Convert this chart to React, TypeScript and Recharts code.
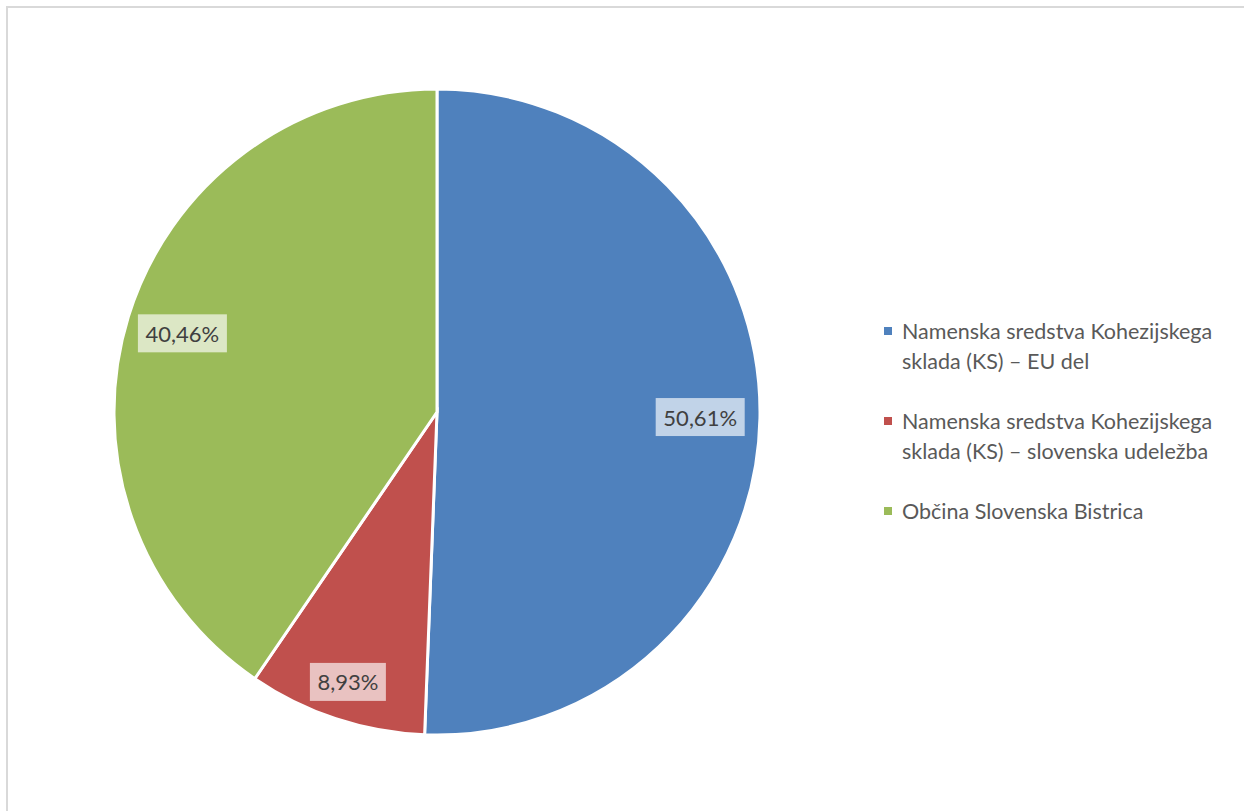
import React from 'react';
import { PieChart, Pie, Cell, Legend } from 'recharts';

const categories = [
  'Namenska sredstva Kohezijskega sklada (KS) – EU del',
  'Namenska sredstva Kohezijskega sklada (KS) – slovenska udeležba',
  'Občina Slovenska Bistrica',
];
const legendLines = [
  ['Namenska sredstva Kohezijskega', 'sklada (KS) – EU del'],
  ['Namenska sredstva Kohezijskega', 'sklada (KS) – slovenska udeležba'],
  ['Občina Slovenska Bistrica'],
];
const shares = [50.61, 8.93, 40.46];
const colors = ['#4f81bd', '#c0504d', '#9bbb59'];

const data = categories.map((name, i) => ({ name, value: shares[i] }));

const FONT = 'Lato, "Open Sans", sans-serif';
const RADIAN = Math.PI / 180;
const labelRadius = [0.815, 0.88, 0.825];

const fmt = (v: number) => v.toFixed(2).replace('.', ',') + '%';

const renderLabel = (props: any) => {
  const { cx, cy, midAngle, outerRadius, value, index } = props;
  const r = outerRadius * labelRadius[index];
  const x = cx + r * Math.cos(-midAngle * RADIAN);
  const y = cy + r * Math.sin(-midAngle * RADIAN);
  const text = fmt(value);
  const w = text.length * 13 + 11;
  const h = 38;
  return (
    <g>
      <rect x={x - w / 2} y={y - h / 2} width={w} height={h} fill="#ffffff" fillOpacity={0.65} />
      <text
        x={x}
        y={y}
        textAnchor="middle"
        dominantBaseline="central"
        fill="#404040"
        style={{ fontFamily: FONT, fontSize: 22 }}
      >
        {text}
      </text>
    </g>
  );
};

const CustomLegend = () => (
  <div style={{ fontFamily: FONT, fontSize: 21.5, color: '#595959' }}>
    {legendLines.map((lines, i) => (
      <div key={i} style={{ position: 'relative', paddingLeft: 18, marginBottom: 30, lineHeight: '30px' }}>
        <span
          style={{
            position: 'absolute',
            left: 0,
            top: 11,
            width: 8,
            height: 8,
            background: colors[i],
          }}
        />
        {lines.map((l, j) => (
          <div key={j} style={{ whiteSpace: 'nowrap' }}>{l}</div>
        ))}
      </div>
    ))}
  </div>
);

export default function App() {
  return (
    <div style={{ position: 'absolute', left: 0, top: 0, width: 1244, height: 811, overflow: 'hidden', background: '#fff' }}>
      <div
        style={{
          position: 'absolute',
          left: 6,
          top: 6,
          width: 1260,
          height: 830,
          border: '2px solid #d9d9d9',
        }}
      />
      <PieChart
        width={1244}
        height={811}
        margin={{ top: 0, right: 0, bottom: 0, left: 0 }}
        style={{ position: 'absolute', left: 0, top: 0 }}
      >
        <Pie
          data={data}
          dataKey="value"
          nameKey="name"
          cx={437}
          cy={412}
          outerRadius={323}
          startAngle={90}
          endAngle={-270}
          stroke="#ffffff"
          strokeWidth={3}
          label={renderLabel}
          labelLine={false}
          isAnimationActive={false}
        >
          {data.map((_, i) => (
            <Cell key={`cell-${i}`} fill={colors[i]} />
          ))}
        </Pie>
        <Legend
          content={<CustomLegend />}
          layout="vertical"
          align="right"
          verticalAlign="top"
          wrapperStyle={{ left: 884, top: 316, width: 350 }}
        />
      </PieChart>
    </div>
  );
}
